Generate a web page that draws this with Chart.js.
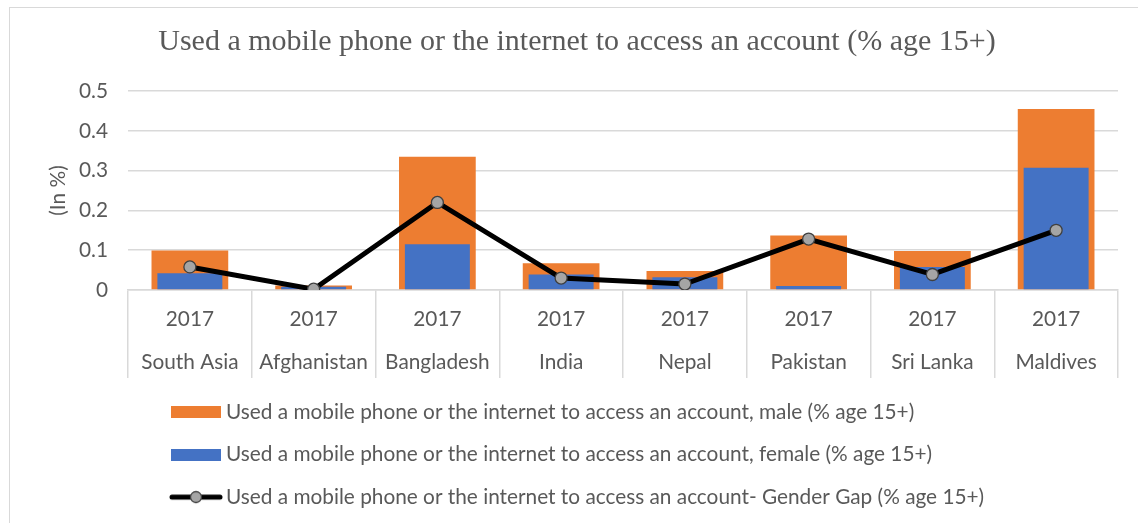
<!DOCTYPE html>
<html>
<head>
<meta charset="utf-8">
<title>Mobile phone or internet account access</title>
<script src="https://cdn.jsdelivr.net/npm/chart.js@4.4.1/dist/chart.umd.min.js"></script>
<style>
  html, body { margin: 0; padding: 0; background: #fff; }
  #wrap { position: relative; width: 1138px; height: 523px; overflow: hidden; }
  #frame { position: absolute; left: 9px; top: 7px; width: 1150px; height: 540px; border: 1px solid #d9d9d9; box-sizing: border-box; }
  #myChart { position: absolute; left: 0; top: 0; }
</style>
</head>
<body>
<div id="wrap">
  <div id="frame"></div>
  <canvas id="myChart" width="1138" height="523"></canvas>
</div>
<script>
// values
const countries = ["South Asia", "Afghanistan", "Bangladesh", "India", "Nepal", "Pakistan", "Sri Lanka", "Maldives"];
const years = ["2017", "2017", "2017", "2017", "2017", "2017", "2017", "2017"];
const male = [0.099, 0.011, 0.335, 0.067, 0.048, 0.137, 0.098, 0.455];
const female = [0.042, 0.008, 0.115, 0.039, 0.032, 0.010, 0.058, 0.307];
const gap = [0.058, 0.002, 0.220, 0.030, 0.015, 0.128, 0.039, 0.150];

const textGrey = "#595959";
const gridGrey = "#d9d9d9";
const sans = "Lato";

// little pictures for the legend keys
function keyBox(color) {
  const cv = document.createElement("canvas");
  cv.width = 50;
  cv.height = 12;
  const g = cv.getContext("2d");
  g.fillStyle = color;
  g.fillRect(0, 0, 50, 12);
  return cv;
}
function keyLine() {
  const cv = document.createElement("canvas");
  cv.width = 54;
  cv.height = 16;
  const g = cv.getContext("2d");
  g.strokeStyle = "#000";
  g.lineWidth = 5;
  g.lineCap = "round";
  g.beginPath();
  g.moveTo(3, 8);
  g.lineTo(51, 8);
  g.stroke();
  g.beginPath();
  g.arc(27, 8, 5.5, 0, Math.PI * 2);
  g.fillStyle = "#a5a5a5";
  g.fill();
  g.lineWidth = 1.3;
  g.strokeStyle = "#404040";
  g.stroke();
  return cv;
}
const legendKeys = [keyBox("#ed7d31"), keyBox("#4472c4"), keyLine()];

// move title and legend to where the original has them
const nudge = {
  id: "nudge",
  afterLayout(chart) {
    const t = chart.titleBlock;
    t.left += 18;
    t.right += 18;
    const lg = chart.legend;
    const h = lg.bottom - lg.top;
    lg.left = 176.4 - lg.options.labels.padding;
    lg.top = 380;
    lg.bottom = lg.top + h;
  },
};

let myChart;

document.fonts.load('21px "Lato"').then(() => {
  const ctx = document.getElementById("myChart").getContext("2d");
  myChart = new Chart(ctx, {
    type: "bar",
    data: {
      labels: countries.map((c, i) => [years[i], c]),
      datasets: [
        {
          type: "bar",
          label: "Used a mobile phone or the internet to access an account, male (% age 15+)",
          data: male,
          backgroundColor: "#ed7d31",
          grouped: false,
          categoryPercentage: 1,
          barPercentage: 0.62,
          order: 3,
        },
        {
          type: "bar",
          label: "Used a mobile phone or the internet to access an account, female (% age 15+)",
          data: female,
          backgroundColor: "#4472c4",
          grouped: false,
          categoryPercentage: 1,
          barPercentage: 0.525,
          order: 2,
        },
        {
          type: "line",
          label: "Used a mobile phone or the internet to access an account- Gender Gap (% age 15+)",
          data: gap,
          borderColor: "#000",
          borderWidth: 5,
          tension: 0,
          pointRadius: 6,
          pointBackgroundColor: "#a5a5a5",
          pointBorderColor: "#404040",
          pointBorderWidth: 1.3,
          order: 1,
        },
      ],
    },
    options: {
      responsive: false,
      animation: false,
      layout: { padding: { left: 0, right: 20, top: 0, bottom: 7.5 } },
      plugins: {
        tooltip: { enabled: false },
        title: {
          display: true,
          text: "Used a mobile phone or the internet to access an account (% age 15+)",
          color: textGrey,
          font: { family: "Liberation Serif", size: 30, weight: "normal" },
          padding: { top: 24.6, bottom: 30.4 },
        },
        legend: {
          position: "bottom",
          align: "start",
          labels: {
            color: textGrey,
            font: { family: sans, size: 20.8 },
            usePointStyle: true,
            pointStyleWidth: 39.2,
            padding: 21.7,
            sort: (a, b) => a.datasetIndex - b.datasetIndex,
            generateLabels(chart) {
              const items = Chart.defaults.plugins.legend.labels.generateLabels(chart);
              items.forEach((it) => {
                it.pointStyle = legendKeys[it.datasetIndex];
              });
              return items;
            },
          },
        },
      },
      scales: {
        x: {
          afterFit: (s) => {
            s.height = 88;
          },
          grid: {
            offset: true,
            drawOnChartArea: false,
            drawTicks: true,
            tickLength: 88,
            color: gridGrey,
            lineWidth: 1.5,
          },
          border: { color: gridGrey, width: 1.5 },
          ticks: {
            color: textGrey,
            font: { family: sans, size: 20.8, lineHeight: "43px" },
            padding: -80,
            maxRotation: 0,
            autoSkip: false,
          },
        },
        y: {
          min: 0,
          max: 0.5,
          afterFit: (s) => {
            s.width = 128;
          },
          grid: { color: gridGrey, lineWidth: 1.5, drawTicks: false },
          border: { display: false },
          ticks: {
            stepSize: 0.1,
            color: textGrey,
            font: { family: sans, size: 20.8 },
            padding: 20,
          },
          title: {
            display: true,
            text: "(In %)",
            color: textGrey,
            font: { family: sans, size: 20.8 },
            padding: { top: 45.5, bottom: 0 },
          },
        },
      },
    },
    plugins: [nudge],
  });
});
</script>
</body>
</html>
